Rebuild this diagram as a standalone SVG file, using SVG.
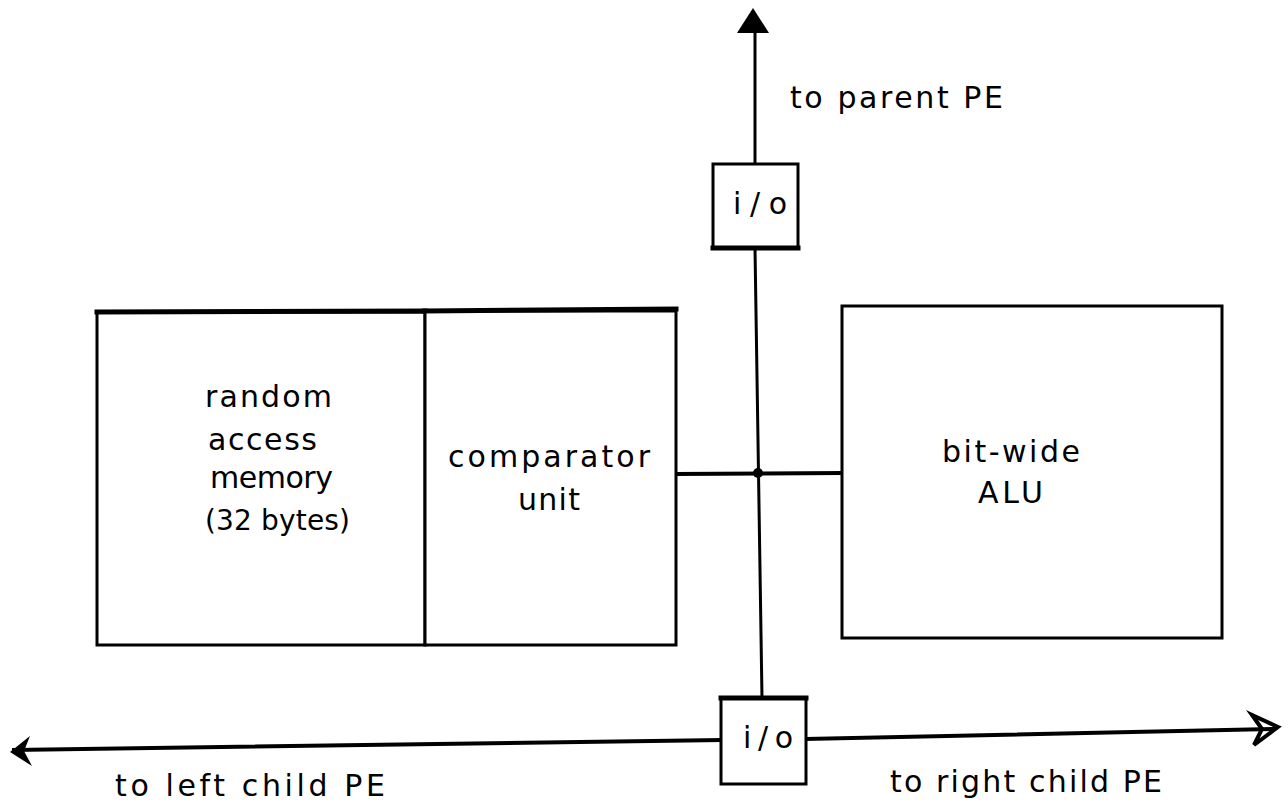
<svg xmlns="http://www.w3.org/2000/svg" width="1288" height="807" viewBox="0 0 1288 807">
<style>
.ln{stroke:#000;stroke-width:3;fill:none;stroke-linecap:square}
.bx{stroke:#000;stroke-width:3;fill:#fff}
.t{font-family:"DejaVu Sans","Liberation Sans",Arial,sans-serif;font-size:30px;fill:#000}
</style>
<rect width="1288" height="807" fill="#fff"/>
<g id="connectors">
<line class="ln" x1="755" y1="30" x2="755" y2="164"/>
<line class="ln" x1="755" y1="248" x2="762" y2="698"/>
<line class="ln" x1="675" y1="474" x2="842" y2="473" style="stroke-width:4"/>
<circle cx="758" cy="473" r="5" fill="#000"/>
<line class="ln" x1="14" y1="750" x2="721" y2="740" style="stroke-width:4"/>
<line class="ln" x1="806" y1="739" x2="1274" y2="729" style="stroke-width:4"/>
<polygon points="753,8 737,33 769,33" fill="#000"/>
<polygon points="10,752 30,736 24,751 32,766" fill="#000"/>
<polygon points="1278,727 1252,715 1262,729 1254,745" fill="none" stroke="#000" stroke-width="4" stroke-linejoin="miter"/>
</g>
<g id="ram">
<rect class="bx" x="97" y="312" width="328" height="333"/>
<line class="ln" x1="97" y1="312" x2="425" y2="311" style="stroke-width:5"/>
<text class="t" x="205" y="407" textLength="127" lengthAdjust="spacing">random</text>
<text class="t" x="208" y="450" textLength="109" lengthAdjust="spacing">access</text>
<text class="t" x="210" y="488" textLength="123" lengthAdjust="spacing">memory</text>
<text class="t" x="205" y="530" textLength="145" lengthAdjust="spacing" style="font-size:28px">(32 bytes)</text>
</g>
<g id="comparator">
<rect class="bx" x="425" y="311" width="251" height="334"/>
<line class="ln" x1="425" y1="311" x2="676" y2="309" style="stroke-width:5"/>
<text class="t" x="448" y="467" textLength="202" lengthAdjust="spacing">comparator</text>
<text class="t" x="518" y="510" textLength="62" lengthAdjust="spacing">unit</text>
</g>
<g id="alu">
<rect class="bx" x="842" y="306" width="380" height="332"/>
<text class="t" x="942" y="462" textLength="138" lengthAdjust="spacing">bit-wide</text>
<text class="t" x="978" y="503" textLength="65" lengthAdjust="spacing">ALU</text>
</g>
<g id="io-top">
<rect class="bx" x="713" y="164" width="85" height="84"/>
<line class="ln" x1="713" y1="248" x2="798" y2="248" style="stroke-width:5"/>
<text class="t" x="733" y="214" textLength="54" lengthAdjust="spacing">i/o</text>
</g>
<g id="io-bottom">
<rect class="bx" x="721" y="698" width="85" height="86"/>
<line class="ln" x1="721" y1="698" x2="806" y2="698" style="stroke-width:5"/>
<text class="t" x="743" y="748" textLength="50" lengthAdjust="spacing">i/o</text>
</g>
<g id="labels">
<text class="t" x="790" y="108" textLength="213" lengthAdjust="spacing">to parent PE</text>
<text class="t" x="115" y="796" textLength="270" lengthAdjust="spacing">to left child PE</text>
<text class="t" x="890" y="792" textLength="272" lengthAdjust="spacing">to right child PE</text>
</g>
</svg>
